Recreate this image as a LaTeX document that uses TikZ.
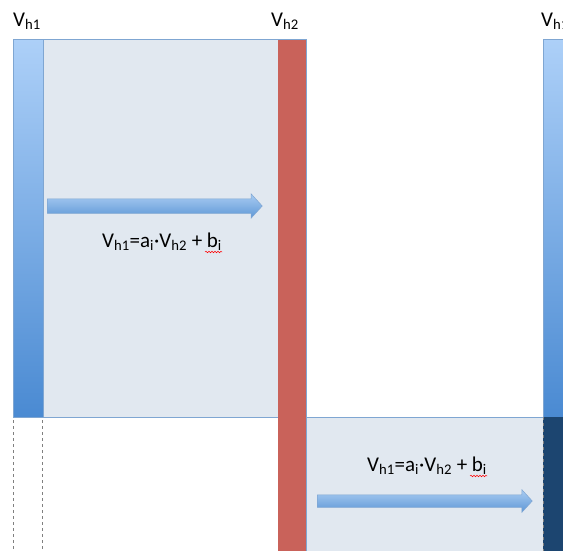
\documentclass[tikz,border=0pt]{standalone}
\usepackage{fontspec}
\setmainfont{Carlito}
\usetikzlibrary{shapes.arrows,decorations.pathmorphing}

\definecolor{panelfill}{HTML}{E1E8F0}
\definecolor{panelline}{HTML}{7FA6D2}
\definecolor{barred}{HTML}{C9625A}
\definecolor{bartop}{HTML}{ADD0F8}
\definecolor{barbot}{HTML}{4A8AD2}
\definecolor{barnavy}{HTML}{1C4570}
\definecolor{arrowtop}{HTML}{A9CCF2}
\definecolor{arrowbot}{HTML}{5E97D6}

\begin{document}
\begin{tikzpicture}[x=1pt,y=-1pt,
  panel/.style={fill=panelfill,draw=panelline,line width=1pt},
  vbar/.style={top color=bartop,bottom color=barbot,draw=panelline,line width=0.8pt},
  flow/.style={single arrow,draw=panelline,line width=0.5pt,top color=arrowtop,bottom color=arrowbot,
    inner xsep=0pt,single arrow head extend=5pt,single arrow tip angle=95,anchor=tail},
  lbl/.style={font=\fontsize{21}{25}\selectfont,inner sep=0pt}]

\useasboundingbox (0,0) rectangle (563,550);
\clip (0,0) rectangle (563,550);

\draw[panel] (13,39) rectangle (305,417);
\draw[panel] (305,417) rectangle (543,552);

\shade[vbar] (13,39) rectangle (43,417);
\fill[barred] (278,39) rectangle (306,552);
\draw[panelline,line width=1pt] (278,39) -- (306,39) -- (306,552);
\shade[vbar] (543,39) rectangle (570,417);
\fill[barnavy] (543,417) rectangle (570,552);
\draw[gray,dashed,line width=0.6pt] (543,417) -- (543,552);

\draw[gray,dashed,line width=0.8pt] (13,420) -- (13,552);
\draw[gray,dashed,line width=0.8pt] (42,420) -- (42,552);

\node[lbl,anchor=base west] (v1) at (13,26) {V\textsubscript{h1}};
\node[lbl,anchor=base west] (v2) at (271,26) {V\textsubscript{h2}};
\node[lbl,anchor=base west] (v3) at (541,26) {V\textsubscript{h1}};

\node[flow,inner ysep=7pt,minimum height=215pt] (arr1) at (47,206) {};
\node[flow,inner ysep=6pt,minimum height=215pt] (arr2) at (317,501) {};

\node[lbl,anchor=base] (eq1) at (162,247) {V\textsubscript{h1}=a\textsubscript{i}·V\textsubscript{h2} + b\textsubscript{i}};
\node[lbl,anchor=base] (eq2) at (427,471) {V\textsubscript{h1}=a\textsubscript{i}·V\textsubscript{h2} + b\textsubscript{i}};

\draw[red,line width=0.5pt,decorate,decoration={snake,amplitude=0.8pt,segment length=3pt}]
  ([shift={(-17,5)}]eq1.base east) -- ([shift={(0,5)}]eq1.base east);
\draw[red,line width=0.5pt,decorate,decoration={snake,amplitude=0.8pt,segment length=3pt}]
  ([shift={(-17,5)}]eq2.base east) -- ([shift={(0,5)}]eq2.base east);

\end{tikzpicture}
\end{document}
